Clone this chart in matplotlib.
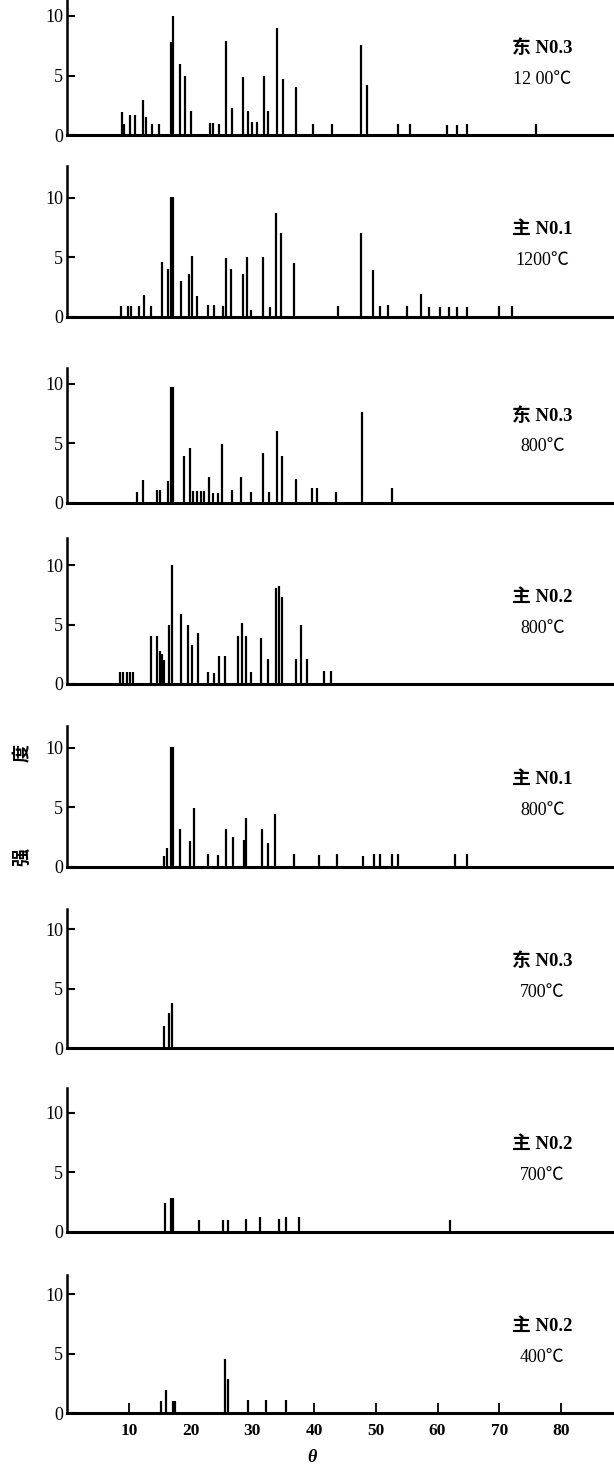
import matplotlib
matplotlib.use("Agg")
import matplotlib.pyplot as plt

# ---------------- data ----------------
labels_sample = ["东 N0.3", "主 N0.1", "东 N0.3", "主 N0.2", "主 N0.1", "东 N0.3", "主 N0.2", "主 N0.2"]
labels_temp = ["12 00℃", "1200℃", "800℃", "800℃", "800℃", "700℃", "700℃", "400℃"]

p1_x = [8.8, 9.2, 10.1, 10.9, 12.2, 12.7, 13.8, 14.8, 16.8, 17.2, 18.3, 19.1, 20.0, 23.1, 23.6, 24.6,
        25.8, 26.7, 28.5, 29.3, 30.0, 30.8, 31.8, 32.5, 34.0, 34.9, 37.0, 39.8, 42.9, 47.6, 48.6,
        53.6, 55.6, 61.6, 63.2, 64.8, 76.0]
p1_h = [1.9, 0.9, 1.7, 1.7, 2.9, 1.5, 0.9, 0.9, 7.8, 10.0, 6.0, 5.0, 2.0, 1.0, 1.0, 0.9,
        7.9, 2.3, 4.9, 2.0, 1.1, 1.1, 5.0, 2.0, 9.0, 4.7, 4.0, 0.9, 0.9, 7.6, 4.2,
        0.9, 0.9, 0.8, 0.8, 0.9, 0.9]

p2_x = [8.7, 9.8, 10.4, 11.6, 12.5, 13.5, 15.3, 16.4, 16.8, 17.2, 18.5, 19.8, 20.2, 21.0, 22.8, 23.7,
        25.2, 25.8, 26.6, 28.5, 29.2, 29.8, 31.7, 32.9, 33.8, 34.7, 36.8, 43.9, 47.6, 49.6, 50.6,
        51.9, 55.1, 57.3, 58.7, 60.4, 61.8, 63.2, 64.8, 69.9, 72.0]
p2_h = [0.9, 0.9, 0.9, 0.9, 1.85, 0.9, 4.6, 4.0, 10.1, 10.1, 3.0, 3.6, 5.1, 1.7, 1.0, 1.0,
        0.9, 4.9, 4.0, 3.6, 5.0, 0.6, 5.0, 0.85, 8.7, 7.0, 4.5, 0.9, 7.0, 3.9, 0.9,
        1.0, 0.9, 1.9, 0.8, 0.85, 0.85, 0.85, 0.85, 0.9, 0.9]

p3_x = [11.3, 12.3, 14.5, 15.1, 16.4, 16.8, 17.1, 18.9, 19.9, 20.4, 21.0, 21.7, 22.1, 23.0, 23.6, 24.4,
        25.1, 26.7, 28.2, 29.7, 31.7, 32.7, 34.0, 34.8, 37.0, 39.6, 40.4, 43.5, 47.8, 52.6]
p3_h = [0.9, 1.9, 1.1, 1.1, 1.8, 9.7, 9.7, 3.9, 4.6, 1.0, 1.0, 1.0, 1.0, 2.2, 0.8, 0.8,
        4.9, 1.1, 2.2, 0.9, 4.2, 0.9, 6.0, 3.9, 2.0, 1.2, 1.2, 0.9, 7.6, 1.2]

p4_x = [8.6, 9.0, 9.7, 10.1, 10.7, 13.6, 14.6, 15.0, 15.3, 15.7, 16.5, 16.9, 18.5, 19.6, 20.2, 21.2,
        22.8, 23.7, 24.6, 25.5, 27.6, 28.3, 29.0, 29.8, 31.4, 32.5, 33.8, 34.3, 34.8, 37.0, 37.8,
        38.9, 41.6, 42.7]
p4_h = [1.0, 1.0, 1.0, 1.0, 1.0, 4.0, 4.0, 2.8, 2.5, 2.0, 5.0, 10.0, 5.9, 5.0, 3.3, 4.3,
        1.0, 0.95, 2.35, 2.35, 4.0, 5.1, 4.0, 1.0, 3.9, 2.1, 8.1, 8.2, 7.3, 2.1, 5.0,
        2.1, 1.1, 1.1]

p5_x = [15.6, 16.2, 16.8, 17.2, 18.2, 19.9, 20.5, 22.8, 24.4, 25.8, 26.9, 28.6, 29.0, 31.6, 32.5, 33.6,
        36.8, 40.8, 43.7, 48.0, 49.7, 50.7, 52.7, 53.6, 62.9, 64.8]
p5_h = [0.9, 1.55, 10.1, 10.1, 3.2, 2.2, 4.9, 1.1, 1.0, 3.2, 2.5, 2.25, 4.1, 3.2, 2.0, 4.4,
        1.1, 1.0, 1.05, 0.9, 1.05, 1.05, 1.1, 1.1, 1.1, 1.1]

p6_x = [15.7, 16.5, 17.0]
p6_h = [1.9, 3.0, 3.8]

p7_x = [15.9, 16.8, 17.2, 21.4, 25.2, 26.1, 29.0, 31.2, 34.3, 35.5, 37.5, 62.0]
p7_h = [2.45, 2.8, 2.8, 0.95, 0.95, 1.0, 1.1, 1.2, 1.1, 1.2, 1.2, 1.0]

p8_x = [15.2, 16.0, 17.1, 17.5, 25.6, 26.1, 29.3, 32.2, 35.4]
p8_h = [1.0, 2.0, 1.0, 1.0, 4.6, 2.9, 1.1, 1.1, 1.1]

panels_x = [p1_x, p2_x, p3_x, p4_x, p5_x, p6_x, p7_x, p8_x]
panels_h = [p1_h, p2_h, p3_h, p4_h, p5_h, p6_h, p7_h, p8_h]

y_ticks = [0, 5, 10]
x_ticks = [10, 20, 30, 40, 50, 60, 70, 80]
x_tick_marks = [10, 40, 50, 60, 70, 80]

# ---------------- layout ----------------
W, H = 614, 1472
fig = plt.figure(figsize=(W / 100, H / 100), dpi=100)
baselines = [135, 316.7, 502.7, 684, 866.7, 1048.3, 1231.7, 1413.3]
ytops = [12.0, 12.7, 11.3, 12.3, 11.8, 11.7, 12.1, 11.6]
px_per_unit = 11.9
x0_px = 67.3
px_per_x = 6.17
xmax = (W - x0_px) / px_per_x

serif = ["Liberation Serif", "Noto Sans CJK SC", "DejaVu Serif"]
cjk = ["Noto Sans CJK SC", "Liberation Serif"]

for i in range(8):
    top = ytops[i]
    bottom_frac = (H - baselines[i]) / H
    height_frac = top * px_per_unit / H
    ax = fig.add_axes([x0_px / W, bottom_frac, 1 - x0_px / W, height_frac])
    ax.vlines(panels_x[i], 0, panels_h[i], color="black", lw=1.6)
    ax.set_xlim(0, xmax)
    ax.set_ylim(0, top)
    for s in ["top", "right"]:
        ax.spines[s].set_visible(False)
    ax.spines["left"].set_linewidth(1.8)
    ax.spines["bottom"].set_linewidth(2.2)
    ax.set_yticks(y_ticks)
    ax.set_yticklabels([str(v) for v in y_ticks], fontfamily=serif, fontsize=13)
    ax.tick_params(axis="y", direction="in", length=6, width=1.5, pad=3)
    if i < 7:
        ax.set_xticks([])
    else:
        ax.xaxis.remove_overlapping_locs = False
        ax.set_xticks(x_ticks)
        ax.set_xticklabels([str(v) for v in x_ticks], fontfamily=serif, fontsize=12.5,
                           fontweight="bold")
        ax.tick_params(axis="x", which="major", direction="in", length=0, pad=7)
        ax.set_xticks(x_tick_marks, minor=True)
        ax.tick_params(axis="x", which="minor", direction="in", length=7, width=1.3)
    ax.text(77, 7.3, labels_sample[i], ha="center", va="center", fontsize=13.5,
            fontweight="bold", family=serif)
    ax.text(77, 4.7, labels_temp[i], ha="center", va="center", fontsize=13,
            family=serif)

fig.text(22 / W, 1 - 753 / H, "度", rotation=90, ha="center", va="center",
         fontsize=13, family=cjk, fontweight="bold")
fig.text(22 / W, 1 - 857 / H, "强", rotation=90, ha="center", va="center",
         fontsize=13, family=cjk, fontweight="bold")
fig.text(312 / W, 1 - 1458 / H, "θ", ha="center", va="center", fontsize=13,
         family=serif, fontstyle="italic", fontweight="bold")

fig.savefig("out.png", dpi=100)
